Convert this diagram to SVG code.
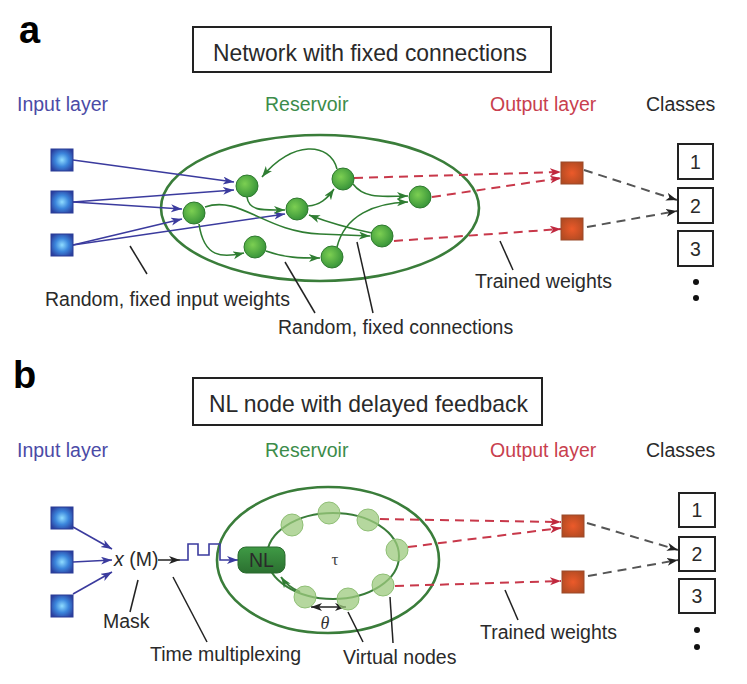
<svg xmlns="http://www.w3.org/2000/svg" width="747" height="684" viewBox="0 0 747 684">
<defs>
<style>
text{font-family:"Liberation Sans",Arial,sans-serif;font-size:19.5px;fill:#2a2a2a}
.lbl-in{fill:#4b4ba6}.lbl-res{fill:#3c8c4a}.lbl-out{fill:#c8404e}
.panel{font-weight:bold;font-size:38px;fill:#000}
.title{font-size:24px}
.blue{stroke:#3b3b9e;stroke-width:1.6;fill:none}
.green{stroke:#2f7d32;stroke-width:1.6;fill:none}
.red{stroke:#c8384a;stroke-width:2;fill:none;stroke-dasharray:9,6}
.gray{stroke:#555;stroke-width:2;fill:none;stroke-dasharray:9,6}
.lead{stroke:#222;stroke-width:1.5;fill:none}
.res{fill:none;stroke:#3a7d3a;stroke-width:2.6}
.box{fill:#fff;stroke:#222;stroke-width:2}
.insq{fill:url(#gBlue);stroke:#2b3c96;stroke-width:1}
.outsq{fill:url(#gOrange);stroke:#9a4a2a;stroke-width:1}
.node{fill:url(#gGreen);stroke:#2f7a2f;stroke-width:1}
.vnode{fill:#9cc97e;fill-opacity:0.75;stroke:#8fbf75;stroke-width:1}
</style>
<radialGradient id="gBlue" cx="50%" cy="50%" r="60%"><stop offset="0" stop-color="#8fdcff"/><stop offset="0.5" stop-color="#3c86dc"/><stop offset="1" stop-color="#2a3f9e"/></radialGradient>
<radialGradient id="gOrange" cx="50%" cy="50%" r="60%"><stop offset="0" stop-color="#ec5a2a"/><stop offset="1" stop-color="#b04a22"/></radialGradient>
<radialGradient id="gGreen" cx="40%" cy="40%" r="60%"><stop offset="0" stop-color="#7ccf52"/><stop offset="1" stop-color="#3a963a"/></radialGradient>
<linearGradient id="gNL" x1="0" y1="0" x2="0" y2="1"><stop offset="0" stop-color="#3f9a45"/><stop offset="1" stop-color="#2b7030"/></linearGradient>
<marker id="aBlue" markerUnits="userSpaceOnUse" markerWidth="12" markerHeight="10" refX="11" refY="4" orient="auto"><path d="M0,0 L11,4 L0,8 L3,4 Z" fill="#3b3b9e"/></marker>
<marker id="aGreen" markerUnits="userSpaceOnUse" markerWidth="12" markerHeight="10" refX="11" refY="4" orient="auto"><path d="M0,0 L11,4 L0,8 L3,4 Z" fill="#2f7d32"/></marker>
<marker id="aRed" markerUnits="userSpaceOnUse" markerWidth="12" markerHeight="10" refX="11" refY="4" orient="auto"><path d="M0,0 L11,4 L0,8 L3,4 Z" fill="#c0283e"/></marker>
<marker id="aBlack" markerUnits="userSpaceOnUse" markerWidth="12" markerHeight="10" refX="11" refY="4" orient="auto"><path d="M0,0 L11,4 L0,8 L3,4 Z" fill="#222"/></marker>
<marker id="aBlackS" markerUnits="userSpaceOnUse" markerWidth="12" markerHeight="10" refX="0" refY="4" orient="auto"><path d="M11,0 L0,4 L11,8 L8,4 Z" fill="#222"/></marker>
</defs>
<rect width="747" height="684" fill="#fff"/>

<!-- Panel a -->
<text class="panel" x="19" y="43">a</text>
<g id="title-a"><rect class="box" x="193" y="27" width="358" height="45"/><text class="title" x="213" y="61" textLength="314" lengthAdjust="spacingAndGlyphs">Network with fixed connections</text></g>
<text class="lbl-in" x="17" y="111">Input layer</text>
<text class="lbl-res" x="265" y="111">Reservoir</text>
<text class="lbl-out" x="490" y="111">Output layer</text>
<text x="646" y="111">Classes</text>

<g id="reservoir-a"><ellipse class="res" cx="320" cy="208" rx="159" ry="73"/></g>

<g id="connectors-a">
<path class="blue" marker-end="url(#aBlue)" d="M73,160 L234,182"/>
<path class="blue" marker-end="url(#aBlue)" d="M73,202 L234,190"/>
<path class="blue" marker-end="url(#aBlue)" d="M73,202 L182,209"/>
<path class="blue" marker-end="url(#aBlue)" d="M73,245 L182,219"/>
<path class="blue" marker-end="url(#aBlue)" d="M73,245 L285,214"/>
<path class="green" marker-end="url(#aGreen)" d="M337,169 C330,142 292,140 262,177"/>
<path class="green" marker-end="url(#aGreen)" d="M247,197 C249,212 265,210 285,210"/>
<path class="green" marker-end="url(#aGreen)" d="M308,206 C320,205 327,199 334,189"/>
<path class="green" marker-end="url(#aGreen)" d="M353,184 C365,200 385,196 408,196"/>
<path class="green" marker-end="url(#aGreen)" d="M337,247 C345,215 375,203 408,202"/>
<path class="green" marker-end="url(#aGreen)" d="M205,207 C240,195 265,232 320,234 L370,236"/>
<path class="green" marker-end="url(#aGreen)" d="M372,233 C352,229 330,223 309,215"/>
<path class="green" marker-end="url(#aGreen)" d="M199,224 C204,258 222,258 244,253"/>
<path class="green" marker-end="url(#aGreen)" d="M266,251 C285,258 300,258 320,258"/>
<path class="red" marker-end="url(#aRed)" d="M354,178 L561,172"/>
<path class="red" marker-end="url(#aRed)" d="M432,197 L561,178"/>
<path class="red" marker-end="url(#aRed)" d="M394,241 L561,229"/>
<path class="gray" marker-end="url(#aBlack)" d="M584,170 L677,200"/>
<path class="gray" marker-end="url(#aBlack)" d="M587,227 L677,211"/>
<path class="lead" d="M130,246 L147,274"/>
<path class="lead" d="M285,262 L315,313"/>
<path class="lead" d="M357,242 L373,313"/>
<path class="lead" d="M500,241 L513,270"/>
</g>

<g id="inputs-a">
<rect class="insq" x="51" y="149" width="22" height="22"/>
<rect class="insq" x="51" y="191" width="22" height="22"/>
<rect class="insq" x="51" y="234" width="22" height="22"/>
</g>
<g id="nodes-a">
<circle class="node" cx="247" cy="186" r="11"/>
<circle class="node" cx="343" cy="179" r="11"/>
<circle class="node" cx="194" cy="213" r="11"/>
<circle class="node" cx="297" cy="209" r="11"/>
<circle class="node" cx="255" cy="247" r="11"/>
<circle class="node" cx="332" cy="257" r="11"/>
<circle class="node" cx="382" cy="236" r="11"/>
<circle class="node" cx="420" cy="197" r="11"/>
</g>
<g id="outputs-a">
<rect class="outsq" x="561" y="162" width="22" height="22"/>
<rect class="outsq" x="561" y="218" width="22" height="22"/>
</g>
<g id="classes-a">
<rect class="box" x="678" y="144" width="35" height="35"/><text x="695.5" y="169" text-anchor="middle">1</text>
<rect class="box" x="678" y="188" width="35" height="35"/><text x="695.5" y="213" text-anchor="middle">2</text>
<rect class="box" x="678" y="231" width="35" height="35"/><text x="695.5" y="256" text-anchor="middle">3</text>
<circle cx="696" cy="282" r="3" fill="#111"/><circle cx="696" cy="298" r="3" fill="#111"/>
</g>
<text x="45" y="306">Random, fixed input weights</text>
<text x="278" y="334">Random, fixed connections</text>
<text x="475" y="288">Trained weights</text>

<!-- Panel b -->
<text class="panel" x="13" y="388">b</text>
<g id="title-b"><rect class="box" x="193" y="378" width="349" height="47"/><text class="title" x="209" y="412" textLength="319" lengthAdjust="spacingAndGlyphs">NL node with delayed feedback</text></g>
<text class="lbl-in" x="17" y="457">Input layer</text>
<text class="lbl-res" x="265" y="457">Reservoir</text>
<text class="lbl-out" x="490" y="457">Output layer</text>
<text x="646" y="457">Classes</text>

<g id="reservoir-b">
<ellipse class="res" cx="328" cy="560" rx="111" ry="73"/>
<ellipse cx="333" cy="556" rx="66" ry="43" fill="none" stroke="#3a7d3a" stroke-width="2"/>
</g>

<g id="connectors-b">
<path class="blue" marker-end="url(#aBlue)" d="M73,527 L112,549"/>
<path class="blue" marker-end="url(#aBlue)" d="M73,562 L112,560"/>
<path class="blue" marker-end="url(#aBlue)" d="M73,594 L112,572"/>
<path d="M158,560 L180,560" stroke="#222" stroke-width="1.5" marker-end="url(#aBlack)"/>
<path class="blue" marker-end="url(#aBlue)" d="M180,560 L188,560 L188,544 L198,544 L198,555 L209,555 L209,544 L220,544 L220,560 L238,560"/>
<path d="M300,592 Q288,587 281,577" fill="none" stroke="#3a7d3a" stroke-width="2" marker-end="url(#aGreen)"/>
<path d="M311,607 L346,607" stroke="#222" stroke-width="1.5" marker-start="url(#aBlackS)" marker-end="url(#aBlack)"/>
<path class="red" marker-end="url(#aRed)" d="M380,519 L561,522"/>
<path class="red" marker-end="url(#aRed)" d="M408,547 L561,528"/>
<path class="red" marker-end="url(#aRed)" d="M395,586 L561,581"/>
<path class="gray" marker-end="url(#aBlack)" d="M587,523 L678,550"/>
<path class="gray" marker-end="url(#aBlack)" d="M588,576 L678,560"/>
<path class="lead" d="M138,580 L130,612"/>
<path class="lead" d="M173,577 L207,642"/>
<path class="lead" d="M348,612 L363,642"/>
<path class="lead" d="M390,597 L393,643"/>
<path class="lead" d="M505,590 L518,620"/>
</g>

<g id="inputs-b">
<rect class="insq" x="51" y="507" width="22" height="22"/>
<rect class="insq" x="51" y="551" width="22" height="22"/>
<rect class="insq" x="51" y="595" width="22" height="22"/>
</g>
<text x="114" y="566"><tspan font-style="italic">x</tspan> (M)</text>
<g id="nl-node"><rect x="238" y="547" width="47" height="26" rx="8" fill="url(#gNL)" stroke="#2a6a2e" stroke-width="1"/><text x="261.5" y="567" text-anchor="middle" fill="#111">NL</text></g>
<g id="virtual-nodes">
<circle class="vnode" cx="292" cy="525" r="11"/>
<circle class="vnode" cx="329" cy="513" r="11"/>
<circle class="vnode" cx="368" cy="520" r="11"/>
<circle class="vnode" cx="397" cy="550" r="11"/>
<circle class="vnode" cx="383" cy="585" r="11"/>
<circle class="vnode" cx="348" cy="599" r="11"/>
<circle class="vnode" cx="305" cy="597" r="11"/>
</g>
<text x="335" y="565" text-anchor="middle" style="font-family:'Liberation Serif',serif;font-size:17px;fill:#444">τ</text>
<text x="325" y="629" text-anchor="middle" style="font-family:'Liberation Serif',serif;font-size:18px;font-style:italic;fill:#333">θ</text>
<g id="outputs-b">
<rect class="outsq" x="562" y="515" width="22" height="22"/>
<rect class="outsq" x="562" y="571" width="22" height="22"/>
</g>
<g id="classes-b">
<rect class="box" x="679" y="493" width="36" height="34"/><text x="697" y="517" text-anchor="middle">1</text>
<rect class="box" x="679" y="537" width="36" height="34"/><text x="697" y="561" text-anchor="middle">2</text>
<rect class="box" x="679" y="579" width="36" height="34"/><text x="697" y="603" text-anchor="middle">3</text>
<circle cx="697" cy="630" r="3" fill="#111"/><circle cx="697" cy="647" r="3" fill="#111"/>
</g>
<text x="103" y="628">Mask</text>
<text x="150" y="661">Time multiplexing</text>
<text x="343" y="664">Virtual nodes</text>
<text x="480" y="639">Trained weights</text>
</svg>
